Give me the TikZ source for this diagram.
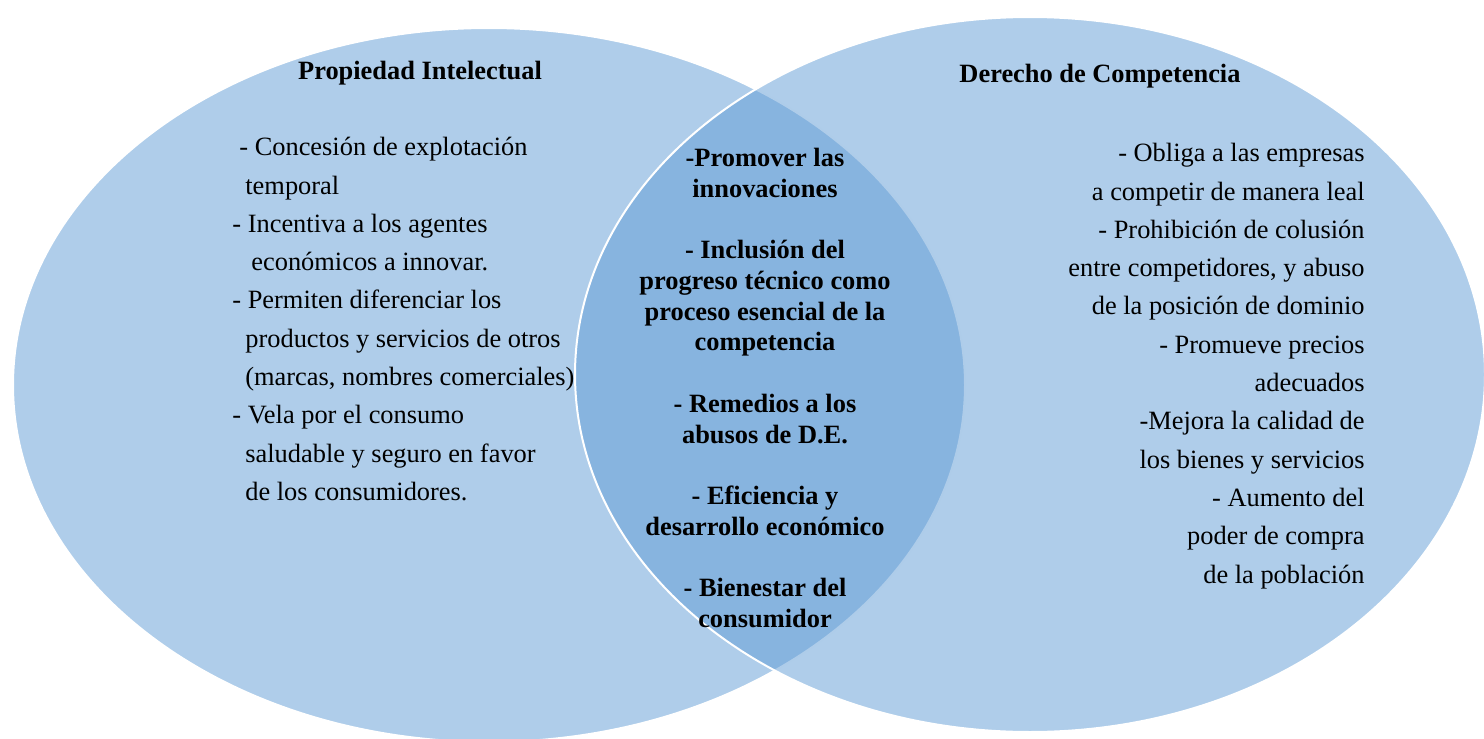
\documentclass[tikz,border=0pt]{standalone}
\usepackage{fontspec}
\setmainfont{Liberation Serif}
\usepackage{tikz}
\definecolor{conjblue}{RGB}{95,155,213}

\begin{document}
\begin{tikzpicture}[x=0.5pt,y=-0.5pt,
		conjunto/.style={fill=conjblue,fill opacity=0.5,draw=white,line width=1pt},
		lista/.style={inner sep=0pt,font=\fontsize{13.2}{19.15}\selectfont},
		comun/.style={inner sep=0pt,align=center,font=\fontsize{13.2}{15.35}\selectfont\bfseries},
		titulo/.style={inner sep=0pt,font=\fontsize{13.2}{15}\selectfont\bfseries}]
		\useasboundingbox (0,0) rectangle (1484,739);
		\clip (0,0) rectangle (1484,739);
		\draw[conjunto] (489,385) ellipse [x radius=476, y radius=357];
		\draw[conjunto] (1030,374.5) ellipse [x radius=455, y radius=357.5];
		\node[titulo,anchor=base] (pi) at (420,79) {Propiedad Intelectual};
		\node[titulo,anchor=base] (dc) at (1100,83) {Derecho de Competencia};
		\node[lista,anchor=north west,align=left] (pilista) at (232,137) {
			\hspace*{3.5pt}- Concesión de explotación\\
			\hspace*{6.5pt}temporal\\
			- Incentiva a los agentes\\
			\hspace*{9.5pt}económicos a innovar.\\
			- Permiten diferenciar los\\
			\hspace*{6.5pt}productos y servicios de otros\\
			\hspace*{6.5pt}(marcas, nombres comerciales)\\
			- Vela por el consumo\\
			\hspace*{6.5pt}saludable y seguro en favor\\
			\hspace*{6.5pt}de los consumidores.};
		\node[lista,anchor=north east,align=right] (dclista) at (1365,143) {
			- Obliga a las empresas\\
			a competir de manera leal\\
			- Prohibición de colusión\\
			entre competidores, y abuso\\
			de la posición de dominio\\
			- Promueve precios\\
			adecuados\\
			-Mejora la calidad de\\
			los bienes y servicios\\
			- Aumento del\\
			poder de compra\\
			de la población};
		\node[comun,anchor=north] (comunes) at (765,148) {
			-Promover las\\
			innovaciones\\[15.35pt]
			- Inclusión del\\
			progreso técnico como\\
			proceso esencial de la\\
			competencia\\[15.35pt]
			- Remedios a los\\
			abusos de D.E.\\[15.35pt]
			- Eficiencia y\\
			desarrollo económico\\[15.35pt]
			- Bienestar del\\
			consumidor};
	\end{tikzpicture}
\end{document}
